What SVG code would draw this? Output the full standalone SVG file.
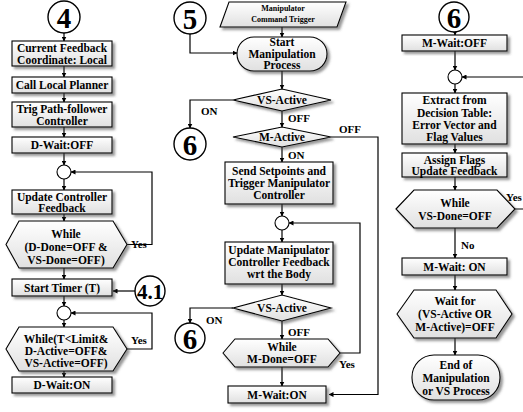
<svg xmlns="http://www.w3.org/2000/svg" width="523" height="412" viewBox="0 0 523 412">
  <defs>
    <linearGradient id="fillGrad" x1="0" y1="0" x2="0" y2="1">
      <stop offset="0" stop-color="#ffffff"/>
      <stop offset="1" stop-color="#e0e0e0"/>
    </linearGradient>
    <filter id="shadow" x="-10%" y="-10%" width="130%" height="140%">
      <feDropShadow dx="2.5" dy="2.5" stdDeviation="1.1" flood-color="#444" flood-opacity="0.55"/>
    </filter>
    <marker id="arrow" viewBox="0 0 10 10" refX="9" refY="5" markerWidth="5" markerHeight="5" orient="auto" markerUnits="userSpaceOnUse">
      <path d="M0,0 L10,5 L0,10 z" fill="#000"/>
    </marker>
  </defs>
  <style>
    .shape { fill: url(#fillGrad); stroke: #000; stroke-width: 1.1; filter: url(#shadow); }
    .junction { fill: #fff; stroke: #000; stroke-width: 1.1; }
    .ref { fill: #fff; stroke: #000; stroke-width: 1.4; }
    .t { font-family: "Liberation Serif", "Times New Roman", serif; font-weight: bold; font-size: 11.5px; text-anchor: middle; fill: #000; }
    .small { font-size: 8px; }
    .num { font-family: "Liberation Serif", "Times New Roman", serif; font-weight: bold; font-size: 29px; text-anchor: middle; fill: #000; }
    .num2 { font-size: 21px; }
    .lbl { font-family: "Liberation Serif", "Times New Roman", serif; font-weight: bold; font-size: 11px; fill: #000; }
    .conn line, .conn polyline { fill: none; stroke: #000; stroke-width: 1.2; }
    .arr { marker-end: url(#arrow); }
  </style>

  <!-- ===== connectors ===== -->
  <g id="connectors" class="conn">
    <!-- left column -->
    <line class="arr" x1="64" y1="33" x2="64" y2="41"/>
    <line class="arr" x1="64" y1="66" x2="64" y2="77"/>
    <line class="arr" x1="64" y1="93" x2="64" y2="102"/>
    <line class="arr" x1="64" y1="127" x2="64" y2="137"/>
    <line class="arr" x1="64" y1="153" x2="64" y2="165"/>
    <line class="arr" x1="64" y1="179" x2="64" y2="190"/>
    <line class="arr" x1="64" y1="214" x2="64" y2="221"/>
    <polyline class="arr" points="127,244.5 152,244.5 152,172 71,172"/>
    <line class="arr" x1="64" y1="268" x2="64" y2="279"/>
    <line class="arr" x1="135" y1="291" x2="113" y2="291"/>
    <line class="arr" x1="64" y1="296" x2="64" y2="306"/>
    <line class="arr" x1="64" y1="320" x2="64" y2="327"/>
    <polyline class="arr" points="127,349 152,349 152,313 71,313"/>
    <line class="arr" x1="64" y1="371" x2="64" y2="377"/>

    <!-- middle column -->
    <line class="arr" x1="282" y1="27" x2="282" y2="37"/>
    <polyline class="arr" points="190,34 190,53 237,53"/>
    <line class="arr" x1="282" y1="71" x2="282" y2="89"/>
    <polyline class="arr" points="233,100 190,100 190,128"/>
    <line class="arr" x1="282" y1="111" x2="282" y2="127"/>
    <polyline class="arr" points="331,137 378,137 378,394.5 329,394.5"/>
    <line class="arr" x1="282" y1="147" x2="282" y2="162"/>
    <line class="arr" x1="282" y1="204" x2="282" y2="216"/>
    <line class="arr" x1="282" y1="230" x2="282" y2="242"/>
    <line class="arr" x1="282" y1="284" x2="282" y2="295"/>
    <polyline class="arr" points="233,308 190,308 190,323"/>
    <line class="arr" x1="282" y1="321" x2="282" y2="339"/>
    <polyline class="arr" points="340,353 360,353 360,223 289,223"/>
    <line class="arr" x1="282" y1="367" x2="282" y2="386"/>

    <!-- right column (loop return runs along the right margin) -->
    <line class="arr" x1="455" y1="32" x2="455" y2="35"/>
    <line class="arr" x1="455" y1="51" x2="455" y2="70"/>
    <polyline class="arr" points="515,209 526,209 526,77 462,77"/>
    <line class="arr" x1="455" y1="84" x2="455" y2="93"/>
    <line class="arr" x1="455" y1="144" x2="455" y2="153"/>
    <line class="arr" x1="455" y1="177" x2="455" y2="190"/>
    <line class="arr" x1="455" y1="228" x2="455" y2="258"/>
    <line class="arr" x1="455" y1="275" x2="455" y2="290"/>
    <line class="arr" x1="455" y1="338" x2="455" y2="355"/>

    <!-- connector labels -->
    <text class="lbl" x="131" y="248">Yes</text>
    <text class="lbl" x="131" y="344">Yes</text>
    <text class="lbl" x="201" y="115">ON</text>
    <text class="lbl" x="288" y="122">OFF</text>
    <text class="lbl" x="339" y="133">OFF</text>
    <text class="lbl" x="288" y="159">ON</text>
    <text class="lbl" x="206" y="324">ON</text>
    <text class="lbl" x="288" y="336">OFF</text>
    <text class="lbl" x="339" y="368">Yes</text>
    <text class="lbl" x="506" y="201">Yes</text>
    <text class="lbl" x="461" y="249">No</text>
  </g>

  <!-- ===== left column: procedure 4 ===== -->
  <g id="ref-4">
    <circle class="ref" cx="64" cy="17" r="16"/>
    <text class="num" x="64" y="27.5">4</text>
  </g>
  <g id="current-feedback">
    <rect class="shape" x="12" y="41" width="100" height="25"/>
    <text class="t" x="62" y="52">Current Feedback</text>
    <text class="t" x="62" y="63.5">Coordinate: Local</text>
  </g>
  <g id="call-planner">
    <rect class="shape" x="12" y="77" width="100" height="16"/>
    <text class="t" x="62" y="89">Call Local Planner</text>
  </g>
  <g id="trig-follower">
    <rect class="shape" x="12" y="102" width="100" height="25"/>
    <text class="t" x="62" y="113">Trig Path-follower</text>
    <text class="t" x="62" y="124.5">Controller</text>
  </g>
  <g id="d-wait-off">
    <rect class="shape" x="12" y="137" width="100" height="16"/>
    <text class="t" x="62" y="149">D-Wait:OFF</text>
  </g>
  <g id="junction-1">
    <circle class="junction" cx="64" cy="172" r="7"/>
  </g>
  <g id="update-controller">
    <rect class="shape" x="12" y="190" width="100" height="24"/>
    <text class="t" x="62" y="201">Update Controller</text>
    <text class="t" x="62" y="212">Feedback</text>
  </g>
  <g id="while-done">
    <polygon class="shape" points="6,244.5 19,221 113,221 127,244.5 113,268 19,268"/>
    <text class="t" x="66" y="238">While</text>
    <text class="t" x="66" y="251">(D-Done=OFF &amp;</text>
    <text class="t" x="66" y="264">VS-Done=OFF)</text>
  </g>
  <g id="start-timer">
    <rect class="shape" x="12" y="279" width="100" height="17"/>
    <text class="t" x="62" y="291.5">Start Timer (T)</text>
  </g>
  <g id="ref-4-1">
    <circle class="ref" cx="150" cy="291" r="15"/>
    <text class="num num2" x="150" y="298.5">4.1</text>
  </g>
  <g id="junction-2">
    <circle class="junction" cx="64" cy="313" r="7"/>
  </g>
  <g id="while-timer">
    <polygon class="shape" points="6,349 19,327 113,327 127,349 113,371 19,371"/>
    <text class="t" x="66" y="343">While(T&lt;Limit&amp;</text>
    <text class="t" x="66" y="355">D-Active=OFF&amp;</text>
    <text class="t" x="66" y="367">VS-Active=OFF)</text>
  </g>
  <g id="d-wait-on">
    <rect class="shape" x="12" y="377" width="100" height="16"/>
    <text class="t" x="62" y="389">D-Wait:ON</text>
  </g>

  <!-- ===== middle column: manipulation process ===== -->
  <g id="ref-5">
    <circle class="ref" cx="190" cy="18" r="16"/>
    <text class="num" x="190" y="28.5">5</text>
  </g>
  <g id="command-trigger">
    <polygon class="shape" points="229,2 346,2 337,27 220,27"/>
    <text class="t small" x="283" y="11">Manipulator</text>
    <text class="t small" x="283" y="21.5">Command Trigger</text>
  </g>
  <g id="start-manipulation">
    <rect class="shape" x="237" y="37" width="90" height="34" rx="17" ry="17"/>
    <text class="t" x="282" y="46">Start</text>
    <text class="t" x="282" y="57.5">Manipulation</text>
    <text class="t" x="282" y="69">Process</text>
  </g>
  <g id="vs-active-1">
    <polygon class="shape" points="233,100 282,89 331,100 282,111"/>
    <text class="t" x="282" y="104">VS-Active</text>
  </g>
  <g id="ref-6-a">
    <circle class="ref" cx="190" cy="144" r="16"/>
    <text class="num" x="190" y="154.5">6</text>
  </g>
  <g id="m-active">
    <polygon class="shape" points="233,137 282,127 331,137 282,147"/>
    <text class="t" x="282" y="141">M-Active</text>
  </g>
  <g id="send-setpoints">
    <rect class="shape" x="225" y="162" width="108" height="42"/>
    <text class="t" x="279" y="175">Send Setpoints and</text>
    <text class="t" x="279" y="187">Trigger Manipulator</text>
    <text class="t" x="279" y="199">Controller</text>
  </g>
  <g id="junction-3">
    <circle class="junction" cx="282" cy="223" r="7"/>
  </g>
  <g id="update-manipulator">
    <rect class="shape" x="225" y="242" width="108" height="42"/>
    <text class="t" x="279" y="254">Update Manipulator</text>
    <text class="t" x="279" y="266">Controller Feedback</text>
    <text class="t" x="279" y="278">wrt the Body</text>
  </g>
  <g id="vs-active-2">
    <polygon class="shape" points="233,308 282,295 331,308 282,321"/>
    <text class="t" x="282" y="312">VS-Active</text>
  </g>
  <g id="ref-6-b">
    <circle class="ref" cx="190" cy="338" r="15"/>
    <text class="num" x="190" y="348.5">6</text>
  </g>
  <g id="while-m-done">
    <polygon class="shape" points="223,353 235,339 328,339 340,353 328,367 235,367"/>
    <text class="t" x="282" y="351">While</text>
    <text class="t" x="282" y="363">M-Done=OFF</text>
  </g>
  <g id="m-wait-on-1">
    <rect class="shape" x="228" y="386" width="98" height="17"/>
    <text class="t" x="277" y="398.5">M-Wait:ON</text>
  </g>

  <!-- ===== right column: procedure 6 ===== -->
  <g id="ref-6-c">
    <circle class="ref" cx="454" cy="17" r="15"/>
    <text class="num" x="454" y="27.5">6</text>
  </g>
  <g id="m-wait-off">
    <rect class="shape" x="402" y="35" width="105" height="16"/>
    <text class="t" x="454.5" y="47">M-Wait:OFF</text>
  </g>
  <g id="junction-4">
    <circle class="junction" cx="455" cy="77" r="7"/>
  </g>
  <g id="extract-table">
    <rect class="shape" x="402" y="93" width="105" height="51"/>
    <text class="t" x="454.5" y="104">Extract from</text>
    <text class="t" x="454.5" y="116.5">Decision Table:</text>
    <text class="t" x="454.5" y="129">Error Vector and</text>
    <text class="t" x="454.5" y="141">Flag Values</text>
  </g>
  <g id="assign-flags">
    <rect class="shape" x="402" y="153" width="105" height="24"/>
    <text class="t" x="454.5" y="164">Assign Flags</text>
    <text class="t" x="454.5" y="175">Update Feedback</text>
  </g>
  <g id="while-vs-done">
    <polygon class="shape" points="396,209 414,190 497,190 515,209 497,228 414,228"/>
    <text class="t" x="455" y="207">While</text>
    <text class="t" x="455" y="220">VS-Done=OFF</text>
  </g>
  <g id="m-wait-on-2">
    <rect class="shape" x="402" y="258" width="105" height="17"/>
    <text class="t" x="454.5" y="270.5">M-Wait: ON</text>
  </g>
  <g id="wait-for">
    <polygon class="shape" points="397,314 414,290 496,290 512,314 496,338 414,338"/>
    <text class="t" x="455" y="305">Wait for</text>
    <text class="t" x="455" y="318">(VS-Active OR</text>
    <text class="t" x="455" y="331">M-Active)=OFF</text>
  </g>
  <g id="end-process">
    <rect class="shape" x="412" y="355" width="88" height="45" rx="22" ry="22"/>
    <text class="t" x="456" y="369">End of</text>
    <text class="t" x="456" y="382">Manipulation</text>
    <text class="t" x="456" y="395">or VS Process</text>
  </g>
</svg>
